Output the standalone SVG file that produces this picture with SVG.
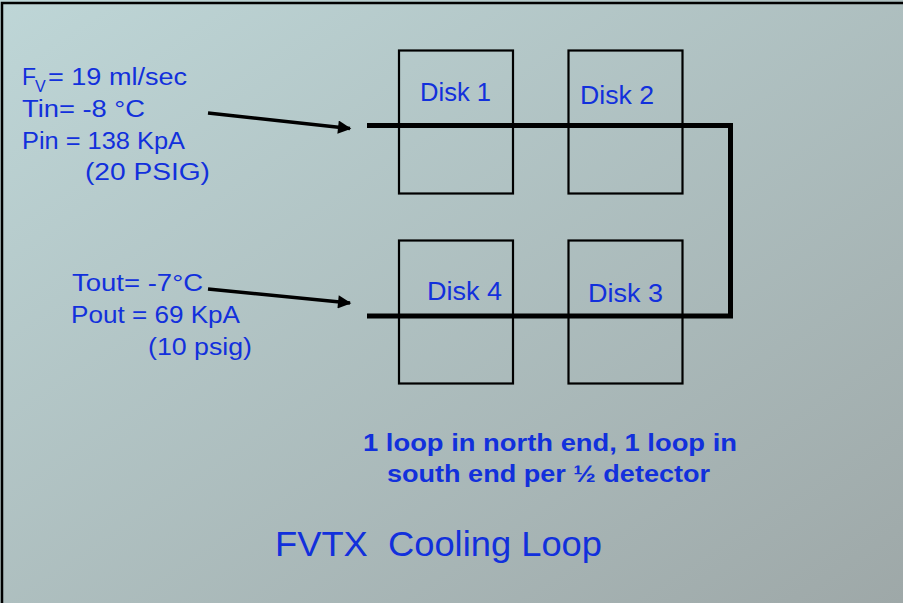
<svg xmlns="http://www.w3.org/2000/svg" width="903" height="603" viewBox="0 0 903 603">
<defs>
<linearGradient id="bg" x1="0" y1="0" x2="1" y2="1">
<stop offset="0" stop-color="#bed6d7"/>
<stop offset="1" stop-color="#9ea8a8"/>
</linearGradient>
<marker id="ah" viewBox="0 0 10 10" refX="9" refY="5" markerWidth="4.6" markerHeight="3.8" markerUnits="strokeWidth" orient="auto">
<path d="M0,0 L10,5 L0,10 z" fill="#000"/>
</marker>
<style>
.t{font-family:"Liberation Sans","DejaVu Sans",sans-serif;fill:#1230dc;}
.s{font-size:23px;}
.d{font-size:26px;}
.b{font-size:23px;font-weight:bold;}
.box{fill:none;stroke:#000;stroke-width:2.2;}
.pipe{fill:none;stroke:#000;stroke-width:5;}
.arr{fill:none;stroke:#000;stroke-width:3.5;marker-end:url(#ah);}
</style>
</defs>
<rect x="0" y="0" width="903" height="603" fill="url(#bg)"/>
<rect x="2" y="3" width="920" height="620" fill="none" stroke="#000" stroke-width="2.5"/>

<g id="disk1">
<rect class="box" x="399" y="50.5" width="114" height="143"/>
<text class="t d" x="420" y="101" textLength="71" lengthAdjust="spacingAndGlyphs">Disk 1</text>
</g>
<g id="disk2">
<rect class="box" x="568.5" y="50.5" width="114" height="143"/>
<text class="t d" x="580" y="104" textLength="74" lengthAdjust="spacingAndGlyphs">Disk 2</text>
</g>
<g id="disk4">
<rect class="box" x="399" y="240.5" width="114" height="143"/>
<text class="t d" x="427" y="300" textLength="75" lengthAdjust="spacingAndGlyphs">Disk 4</text>
</g>
<g id="disk3">
<rect class="box" x="568.5" y="240.5" width="114" height="143"/>
<text class="t d" x="588" y="302" textLength="75" lengthAdjust="spacingAndGlyphs">Disk 3</text>
</g>

<g id="connectors">
<path class="pipe" d="M367,125.5 H730.5 V316 H367"/>
<line class="arr" x1="208" y1="113" x2="350" y2="128.5"/>
<line class="arr" x1="208" y1="289" x2="350" y2="303"/>
</g>

<g id="inlet-label">
<text class="t s" x="22" y="85">F</text>
<text class="t" x="35" y="92" font-size="16">V</text>
<text class="t s" x="48" y="85" textLength="139" lengthAdjust="spacingAndGlyphs">= 19 ml/sec</text>
<text class="t s" x="22" y="117" textLength="123" lengthAdjust="spacingAndGlyphs">Tin= -8 °C</text>
<text class="t s" x="22" y="149" textLength="163" lengthAdjust="spacingAndGlyphs">Pin = 138 KpA</text>
<text class="t s" x="85" y="180" textLength="125" lengthAdjust="spacingAndGlyphs">(20 PSIG)</text>
</g>

<g id="outlet-label">
<text class="t s" x="72" y="291" textLength="131" lengthAdjust="spacingAndGlyphs">Tout= -7°C</text>
<text class="t s" x="71" y="323" textLength="169" lengthAdjust="spacingAndGlyphs">Pout = 69 KpA</text>
<text class="t s" x="148" y="355" textLength="104" lengthAdjust="spacingAndGlyphs">(10 psig)</text>
</g>

<g id="note">
<text class="t b" x="363" y="451" textLength="374" lengthAdjust="spacingAndGlyphs">1 loop in north end, 1 loop in</text>
<text class="t b" x="387" y="482" textLength="323" lengthAdjust="spacingAndGlyphs">south end per ½ detector</text>
</g>

<g id="title">
<text class="t" x="275" y="556" font-size="35" style="white-space:pre" textLength="327" lengthAdjust="spacingAndGlyphs">FVTX  Cooling Loop</text>
</g>
</svg>
